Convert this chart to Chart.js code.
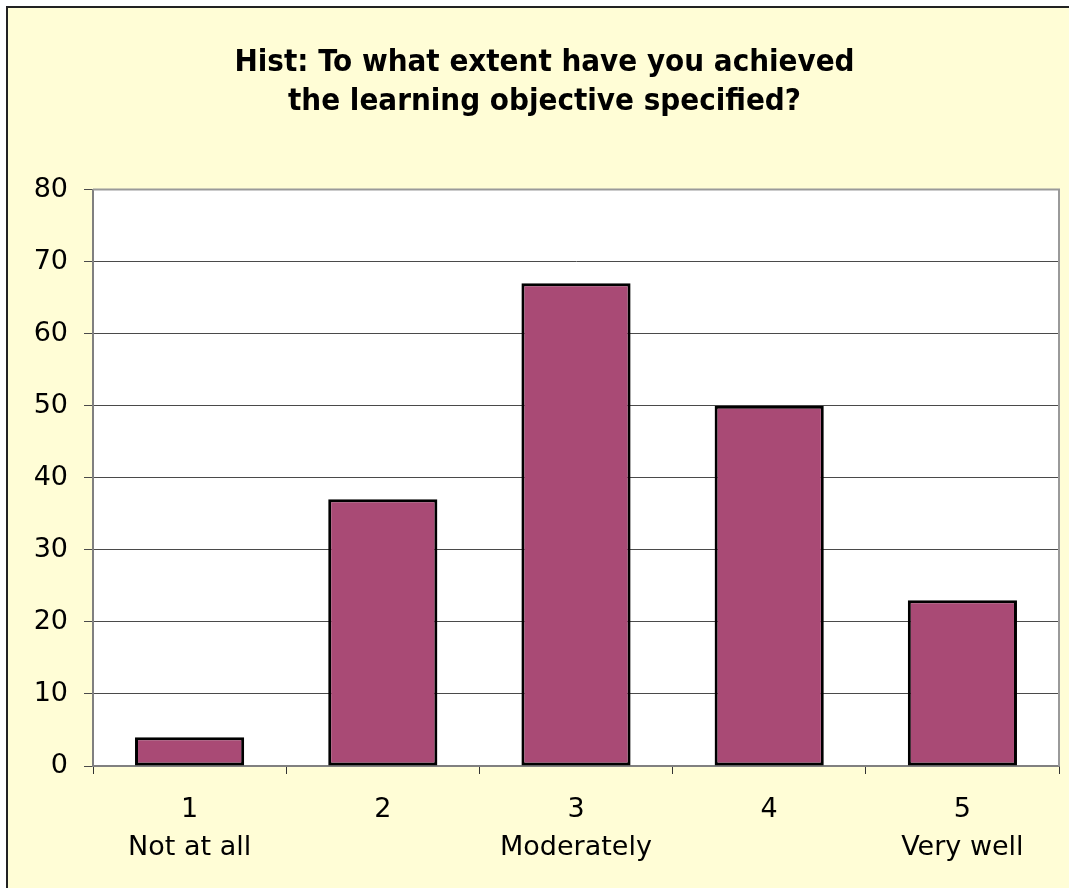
<!DOCTYPE html>
<html>
<head>
<meta charset="utf-8">
<script src="https://cdn.jsdelivr.net/npm/chart.js@4/dist/chart.umd.min.js"></script>
<style>
  html, body { margin: 0; padding: 0; background: #fff; }
  #wrap { position: absolute; left: 0; top: 0; width: 1069px; height: 888px; }
</style>
</head>
<body>
<div id="wrap"><canvas id="myChart" width="1069" height="888"></canvas></div>
<script>
// data
const categories = [['1', 'Not at all'], ['2', ''], ['3', 'Moderately'], ['4', ''], ['5', 'Very well']];
const counts = [4, 37, 67, 50, 23];
const titleLines = ['Hist: To what extent have you achieved', 'the learning objective specified?'];
const yMax = 80;
const yStep = 10;

// page background, outer frame and the white plot box
const frame = {
  id: 'frame',
  beforeDraw(chart) {
    const ctx = chart.ctx;
    const a = chart.chartArea;
    ctx.save();
    ctx.fillStyle = '#ffffff';
    ctx.fillRect(0, 0, chart.width, chart.height);
    ctx.fillStyle = '#FFFDD6';
    ctx.fillRect(7, 7, chart.width, chart.height);
    ctx.fillStyle = '#222';
    ctx.fillRect(6, 6, chart.width, 2);
    ctx.fillRect(6, 6, 2, chart.height);
    ctx.fillStyle = '#ffffff';
    ctx.fillRect(a.left, a.top, a.right - a.left, a.bottom - a.top);
    ctx.restore();
  },
  afterDatasetsDraw(chart) {
    const ctx = chart.ctx;
    const a = chart.chartArea;
    ctx.save();
    ctx.strokeStyle = '#9a9a9a';
    ctx.lineWidth = 2;
    ctx.beginPath();
    ctx.moveTo(a.left, a.top);
    ctx.lineTo(a.right, a.top);
    ctx.lineTo(a.right, a.bottom);
    ctx.stroke();
    ctx.restore();
  }
};

const ctx = document.getElementById('myChart').getContext('2d');
new Chart(ctx, {
  type: 'bar',
  data: {
    labels: categories,
    datasets: [{
      data: counts,
      backgroundColor: '#A94A75',
      borderColor: '#000000',
      borderWidth: 3,
      borderSkipped: false,
      categoryPercentage: 1,
      barPercentage: 0.565
    }]
  },
  options: {
    responsive: false,
    animation: false,
    layout: { padding: { left: 30, right: 10, top: 8, bottom: 0 } },
    plugins: {
      legend: { display: false },
      tooltip: { enabled: false },
      title: {
        display: true,
        text: titleLines,
        color: '#000',
        font: { family: 'DejaVu Sans Condensed', size: 31, weight: 'bold', lineHeight: 1.25 },
        padding: { top: 36, bottom: 68 }
      }
    },
    scales: {
      x: {
        grid: { offset: true, drawOnChartArea: false, tickLength: 8, color: '#333', lineWidth: 1 },
        border: { color: '#808080', width: 2 },
        ticks: { color: '#000', font: { family: 'DejaVu Sans', size: 27, lineHeight: 1.4 }, padding: 17, maxRotation: 0 },
        afterFit(scale) { scale.height = 122; }
      },
      y: {
        min: 0,
        max: yMax,
        ticks: { stepSize: yStep, color: '#000', font: { family: 'DejaVu Sans', size: 27 }, padding: 16 },
        grid: { color: '#4a4a4a', lineWidth: 1, tickLength: 9 },
        border: { color: '#808080', width: 2 },
        afterFit(scale) { scale.width = 63; }
      }
    }
  },
  plugins: [frame]
});
</script>
</body>
</html>
